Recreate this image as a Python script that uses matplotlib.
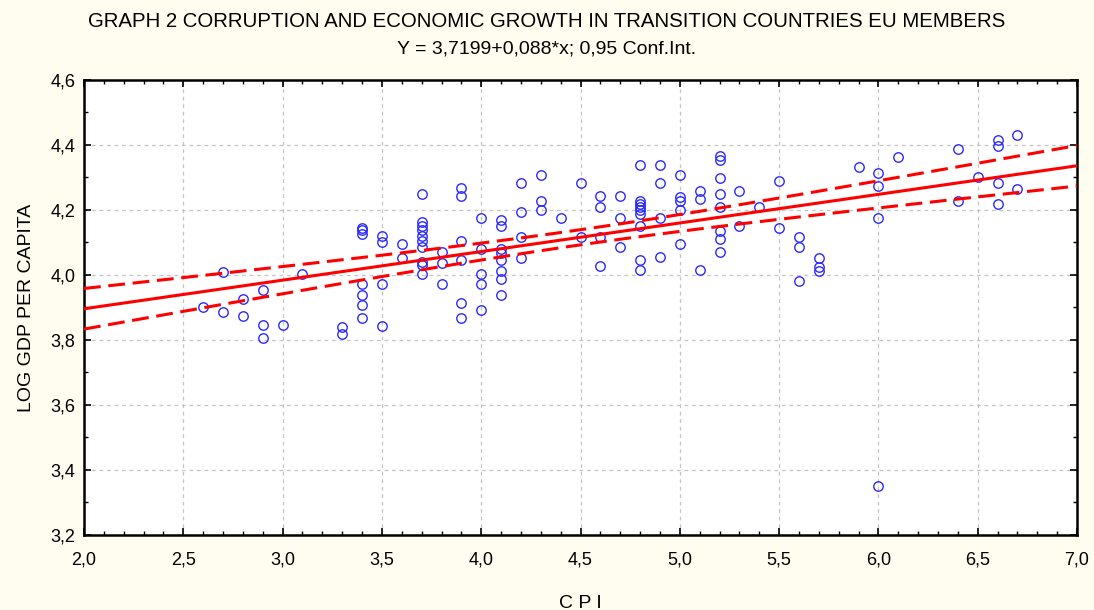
import numpy as np
import matplotlib
matplotlib.use('Agg')
import matplotlib.pyplot as plt
from matplotlib.ticker import MultipleLocator, FuncFormatter

# CPI values and log GDP per capita
cpi = [2.6, 2.7, 2.7, 2.8, 2.8, 2.9, 2.9, 2.9, 3.0, 3.1,
       3.3, 3.3,
       3.4, 3.4, 3.4, 3.4, 3.4, 3.4, 3.4,
       3.5, 3.5, 3.5, 3.5,
       3.6, 3.6,
       3.7, 3.7, 3.7, 3.7, 3.7, 3.7, 3.7, 3.7, 3.7, 3.7,
       3.8, 3.8, 3.8,
       3.9, 3.9, 3.9, 3.9, 3.9, 3.9,
       4.0, 4.0, 4.0, 4.0, 4.0,
       4.1, 4.1, 4.1, 4.1, 4.1, 4.1, 4.1, 4.1,
       4.2, 4.2, 4.2, 4.2,
       4.3, 4.3, 4.3,
       4.4,
       4.5, 4.5,
       4.6, 4.6, 4.6, 4.6,
       4.7, 4.7, 4.7,
       4.8, 4.8, 4.8, 4.8, 4.8, 4.8, 4.8, 4.8, 4.8,
       4.9, 4.9, 4.9, 4.9,
       5.0, 5.0, 5.0, 5.0, 5.0,
       5.1, 5.1, 5.1,
       5.2, 5.2, 5.2, 5.2, 5.2, 5.2, 5.2, 5.2,
       5.3, 5.3,
       5.4,
       5.5, 5.5,
       5.6, 5.6, 5.6,
       5.7, 5.7, 5.7,
       5.9,
       6.0, 6.0, 6.0, 6.0,
       6.1,
       6.4, 6.4,
       6.5,
       6.6, 6.6, 6.6, 6.6,
       6.7, 6.7]
log_gdp = [3.900, 4.010, 3.885, 3.925, 3.875, 3.955, 3.845, 3.805, 3.845, 4.002,
           3.840, 3.818,
           4.145, 4.137, 4.127, 3.972, 3.939, 3.906, 3.866,
           4.120, 4.102, 3.972, 3.842,
           4.094, 4.052,
           4.250, 4.162, 4.152, 4.137, 4.120, 4.103, 4.086, 4.040, 4.030, 4.004,
           4.070, 4.037, 3.972,
           4.268, 4.242, 4.103, 4.045, 3.914, 3.866,
           4.176, 4.079, 4.004, 3.972, 3.892,
           4.170, 4.152, 4.080, 4.067, 4.045, 4.012, 3.988, 3.939,
           4.282, 4.193, 4.118, 4.053,
           4.307, 4.226, 4.201,
           4.176,
           4.282, 4.118,
           4.243, 4.209, 4.118, 4.029,
           4.243, 4.176, 4.086,
           4.339, 4.226, 4.217, 4.209, 4.199, 4.186, 4.152, 4.047, 4.014,
           4.339, 4.282, 4.176, 4.055,
           4.307, 4.240, 4.226, 4.201, 4.094,
           4.258, 4.234, 4.014,
           4.367, 4.355, 4.299, 4.250, 4.209, 4.135, 4.111, 4.070,
           4.258, 4.151,
           4.209,
           4.290, 4.145,
           4.118, 4.086, 3.981,
           4.053, 4.023, 4.012,
           4.331,
           4.315, 4.274, 4.176, 3.352,
           4.364,
           4.388, 4.226,
           4.301,
           4.416, 4.397, 4.282, 4.217,
           4.430, 4.265]

# regression from the subtitle
INTERCEPT = 3.7199
SLOPE = 0.088
T_95 = 1.977

BG = '#fffcf0'


def comma_fmt(decimals):
    return FuncFormatter(lambda v, pos: f'{v:.{decimals}f}'.replace('.', ','))


def conf_band(x_data, y_data, x_line):
    x_data = np.asarray(x_data)
    y_data = np.asarray(y_data)
    n = len(x_data)
    resid = y_data - (INTERCEPT + SLOPE * x_data)
    s = np.sqrt(np.sum(resid ** 2) / (n - 2))
    sxx = np.sum((x_data - x_data.mean()) ** 2)
    return T_95 * s * np.sqrt(1.0 / n + (x_line - x_data.mean()) ** 2 / sxx)


plt.rcParams['font.family'] = ['Liberation Sans', 'DejaVu Sans']

fig = plt.figure(figsize=(10.94, 6.10), dpi=100, facecolor=BG)
ax = fig.add_axes([0.0768, 0.123, 0.9077, 0.746])
ax.set_facecolor('white')

x_line = np.linspace(2.0, 7.0, 200)
y_line = INTERCEPT + SLOPE * x_line
half = conf_band(cpi, log_gdp, x_line)

ax.plot(cpi, log_gdp, 'o', markersize=6.8, markerfacecolor='none',
        markeredgecolor='#2a2aff', markeredgewidth=1.0, zorder=3)
ax.plot(x_line, y_line, color='#ff0000', lw=2.2, zorder=4)
ax.plot(x_line, y_line + half, color='#ff0000', lw=2.2, dashes=(5.5, 2.5),
        zorder=4)
ax.plot(x_line, y_line - half, color='#ff0000', lw=2.2, dashes=(5.5, 2.5),
        zorder=4)

ax.set_xlim(2.0, 7.0)
ax.set_ylim(3.2, 4.6)
ax.xaxis.set_major_locator(MultipleLocator(0.5))
ax.xaxis.set_minor_locator(MultipleLocator(0.1))
ax.yaxis.set_major_locator(MultipleLocator(0.2))
ax.yaxis.set_minor_locator(MultipleLocator(0.1))
ax.xaxis.set_major_formatter(comma_fmt(1))
ax.yaxis.set_major_formatter(comma_fmt(1))

ax.grid(True, which='major', color='#c4c4c4', linestyle=(0, (3, 3)), lw=0.9)
ax.tick_params(which='both', direction='in', top=True, right=True,
               labelsize=13, color='black')
ax.tick_params(which='major', length=5, width=1.2)
ax.tick_params(which='minor', length=3, width=1.0)
ax.tick_params(axis='x', which='major', pad=12)
ax.tick_params(axis='y', which='major', pad=6)
for spine in ax.spines.values():
    spine.set_linewidth(1.8)
    spine.set_color('black')

ax.set_xlabel('C P I', fontsize=14, labelpad=19)
ax.set_ylabel('LOG GDP PER CAPITA', fontsize=14, labelpad=11)

fig.text(0.5, 0.964, 'GRAPH 2 CORRUPTION AND ECONOMIC GROWTH IN TRANSITION '
         'COUNTRIES EU MEMBERS', ha='center', va='center', fontsize=14.7)
fig.text(0.5, 0.920, 'Y = 3,7199+0,088*x; 0,95 Conf.Int.', ha='center',
         va='center', fontsize=14)

fig.savefig('out.png', dpi=100, facecolor=BG)
